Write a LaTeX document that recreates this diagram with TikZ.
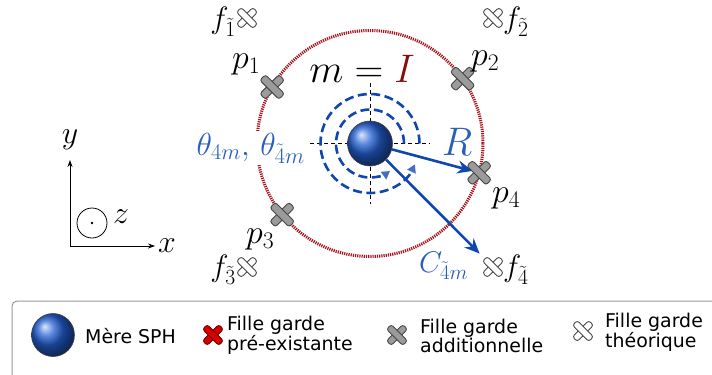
\documentclass[tikz,border=0pt]{standalone}
\usepackage{fix-cm}
\usepackage{fontspec}
\newfontfamily\legendfont{DejaVu Sans}
\usetikzlibrary{arrows.meta}
\definecolor{sphereblue}{RGB}{35,95,210}
\definecolor{arrowblue}{RGB}{15,70,175}
\definecolor{labelblue}{RGB}{40,95,185}
\definecolor{tipblue}{RGB}{70,110,190}
\definecolor{darkred}{RGB}{130,15,15}
\definecolor{circlered}{RGB}{165,20,30}
\definecolor{crossgray}{RGB}{155,155,155}
\definecolor{crossdark}{RGB}{70,70,70}
\definecolor{crossred}{RGB}{215,0,0}
\definecolor{crossreddark}{RGB}{110,0,0}
\tikzset{
  pics/xcross/.style n args={2}{code={
    \begin{scope}[rotate=45]
      \draw[draw=#2, fill=#1, line width=0.9bp, rounded corners=2.5bp] (-13.5,-3.9) rectangle (13.5,3.9);
      \draw[draw=#2, fill=#1, line width=0.9bp, rounded corners=2.5bp] (-3.9,-13.5) rectangle (3.9,13.5);
    \end{scope}
  }},
  sphere/.style={circle, minimum size=45bp, inner sep=0pt, shading=ball, ball color=sphereblue, draw=black!75, line width=0.6bp},
  mathlabel/.style={font=\fontsize{34}{38}\selectfont, inner sep=0pt},
  flabel/.style={font=\fontsize{31}{35}\selectfont, inner sep=0pt},
  axlabel/.style={font=\fontsize{32}{36}\selectfont, inner sep=0pt},
  bluearrow/.style={draw=arrowblue, line width=2.6bp, -{Stealth[length=15bp,width=13bp,inset=5bp]}},
  dasharc/.style={draw=arrowblue, line width=2.6bp, dash pattern=on 9bp off 4.5bp, -{Triangle[length=8bp,width=9bp,color=tipblue]}},
  crosshair/.style={draw=black, line width=0.8bp, dash pattern=on 4bp off 3bp},
  reddot/.style={draw=circlered, line width=3bp, dash pattern=on 1.2bp off 1bp},
  legendtext/.style={font=\legendfont\fontsize{19}{17.5}\selectfont, align=left, anchor=west, inner sep=0pt},
  axis/.style={draw=black, line width=0.8bp, -{Stealth[length=7bp,width=5bp]}}
}
\begin{document}
\begin{tikzpicture}[x=1bp,y=-1bp]
\clip (0,0) rectangle (712,374);
\fill[white] (0,0) rectangle (712,374);

% centre and guard positions
\coordinate (c) at (370,143.5);
\path (c) ++(-150:113) coordinate (p1);
\path (c) ++(-35:113) coordinate (p2);
\path (c) ++(141:113) coordinate (p3);
\path (c) ++(15:113) coordinate (p4);
\coordinate (f1) at (247,18);
\coordinate (f2) at (493,18);
\coordinate (f3) at (247,267);
\coordinate (f4) at (493,267);

% red kernel circle
\draw[reddot] (c) circle[radius=113];

% crosshair
\coordinate (hl) at (310,143.5);
\coordinate (hr) at (430,143.5);
\coordinate (vt) at (370,83);
\coordinate (vb) at (370,204);
\draw[crosshair] (hl) -- (hr);
\draw[crosshair] (vt) -- (vb);

% dashed angular arcs
\draw[dasharc] (c) ++(34,0) arc[start angle=0, end angle=-306, radius=34];
\draw[dasharc] (c) ++(49.5,0) arc[start angle=0, end angle=-335, radius=49.5];

% SPH mother particle
\node[sphere] (m) at (c) {};

% arrows
\draw[bluearrow, shorten >=7bp] (m) -- (p4);
\draw[bluearrow, shorten >=19bp] (m) -- (f4);

% guard crosses
\pic at (p1) {xcross={crossgray}{crossdark}};
\pic at (p2) {xcross={crossgray}{crossdark}};
\pic at (p3) {xcross={crossgray}{crossdark}};
\pic at (p4) {xcross={crossgray}{crossdark}};
\pic[scale=0.85] at (f1) {xcross={white}{crossdark}};
\pic[scale=0.85] at (f2) {xcross={white}{crossdark}};
\pic[scale=0.85] at (f3) {xcross={white}{crossdark}};
\pic[scale=0.85] at (f4) {xcross={white}{crossdark}};

% labels
\node[anchor=base, font=\fontsize{40}{44}\selectfont, inner sep=0pt] (mlab) at (362,82) {$m = {\color{darkred}I}$};
\node[mathlabel, anchor=base west] (p1lab) at (232,68) {$p_1$};
\node[mathlabel, anchor=base west] (p2lab) at (471,65) {$p_2$};
\node[mathlabel, anchor=base west] (p3lab) at (246,243) {$p_3$};
\node[mathlabel, anchor=base west] (p4lab) at (492,202) {$p_4$};
\node[flabel, anchor=east] (f1lab) at (236,22) {$f_{\tilde{1}}$};
\node[flabel, anchor=west] (f2lab) at (503,22) {$f_{\tilde{2}}$};
\node[flabel, anchor=east] (f3lab) at (236,270) {$f_{\tilde{3}}$};
\node[flabel, anchor=west] (f4lab) at (503,270) {$f_{\tilde{4}}$};
\node[anchor=base west, text=labelblue, fill=white, font=\fontsize{32}{36}\selectfont, inner sep=1.5bp] (thlab) at (195,155) {$\theta_{4m},\,\theta_{\tilde{4}m}$};
\node[anchor=base west, text=labelblue, font=\fontsize{40}{44}\selectfont, inner sep=0pt] (rlab) at (442,155) {$R$};
\node[anchor=base west, text=labelblue, font=\fontsize{30}{34}\selectfont, inner sep=0pt] (clab) at (419,272) {$C_{\tilde{4}m}$};

% axes
\coordinate (o) at (70,246);
\coordinate (ytip) at (70,160);
\coordinate (xtip) at (155,246);
\draw[axis] (o) -- (ytip);
\draw[axis] (o) -- (xtip);
\node[axlabel, anchor=base] (ylab) at (70,143) {$y$};
\node[axlabel, anchor=base west] (xlab) at (158,252) {$x$};
\node[circle, draw=black, line width=0.8bp, minimum size=30bp, inner sep=0pt] (zc) at (92,223) {};
\fill (zc.center) circle[radius=1.3];
\node[axlabel, anchor=base west] (zlab) at (113,223) {$z$};

% legend
\draw[draw=black!40, line width=1bp, rounded corners=5bp] (12,301) rectangle (720,390);
\node[sphere, minimum size=43bp] (legsph) at (53,335) {};
\node[legendtext] (legsphlab) at (85,336) {Mère SPH};
\pic[scale=0.85] at (213,335) {xcross={crossred}{crossreddark}};
\node[legendtext] (legredlab) at (227,335) {Fille garde\\pré-existante};
\pic[scale=0.85] at (397,335) {xcross={crossgray}{crossdark}};
\node[legendtext] (leggraylab) at (420,336) {Fille garde\\additionnelle};
\pic[scale=0.85] at (583,331) {xcross={white}{crossdark}};
\node[legendtext] (legwhitelab) at (605,332) {Fille garde\\théorique};
\end{tikzpicture}
\end{document}
